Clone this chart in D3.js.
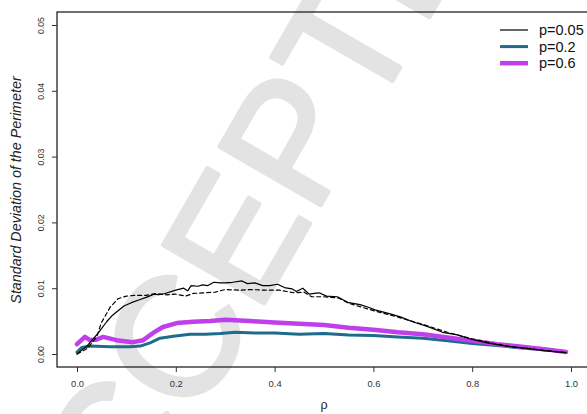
<!DOCTYPE html>
<html>
<head>
<meta charset="utf-8">
<script src="https://cdn.jsdelivr.net/npm/d3@7"></script>
<style>
  html, body { margin: 0; padding: 0; background: #fff; }
  svg { display: block; font-family: "Liberation Sans", Arial, sans-serif; }
</style>
</head>
<body>
<svg id="chart" width="587" height="414"></svg>
<script>
// Perimeter standard deviation against rho, one curve per p
const xTicks = [0.0, 0.2, 0.4, 0.6, 0.8, 1.0];
const yTicks = [0.00, 0.01, 0.02, 0.03, 0.04, 0.05];

// p = 0.05, solid
const rhoP005 = [0, 0.02, 0.042, 0.06, 0.072, 0.095, 0.11, 0.125, 0.14, 0.156, 0.165, 0.178, 0.2, 0.216, 0.224, 0.231, 0.245, 0.254, 0.265, 0.277, 0.29, 0.3, 0.315, 0.334, 0.345, 0.36, 0.376, 0.39, 0.406, 0.42, 0.435, 0.444, 0.457, 0.47, 0.48, 0.49, 0.505, 0.527, 0.55, 0.573, 0.59, 0.603, 0.634, 0.656, 0.679, 0.709, 0.74, 0.77, 0.8, 0.83, 0.869, 0.907, 0.945, 0.99];
const sdP005 = [0, 0.0012, 0.0031, 0.0049, 0.0059, 0.0073, 0.0078, 0.0082, 0.0086, 0.0091, 0.0090, 0.0092, 0.0097, 0.0100, 0.0096, 0.0104, 0.0103, 0.0105, 0.0104, 0.0109, 0.0108, 0.0108, 0.0109, 0.0111, 0.0107, 0.0108, 0.0104, 0.0104, 0.0106, 0.0101, 0.0099, 0.0095, 0.0100, 0.0091, 0.0092, 0.0093, 0.0088, 0.0087, 0.0078, 0.0075, 0.0071, 0.0067, 0.0061, 0.0056, 0.0049, 0.0042, 0.0033, 0.0029, 0.0022, 0.0017, 0.0012, 0.0009, 0.0005, 0.0002];

// p = 0.05, dashed reference
const rhoP005Ref = [0, 0.02, 0.04, 0.049, 0.067, 0.083, 0.1, 0.117, 0.14, 0.16, 0.18, 0.2, 0.22, 0.235, 0.26, 0.28, 0.3, 0.33, 0.35, 0.38, 0.41, 0.44, 0.46, 0.475, 0.5, 0.53, 0.55, 0.6, 0.65, 0.7, 0.75, 0.8, 0.85, 0.88, 0.94, 0.99];
const sdP005Ref = [0, 0.0008, 0.0026, 0.0047, 0.0071, 0.0084, 0.0088, 0.0089, 0.0089, 0.0092, 0.0090, 0.0091, 0.0088, 0.0092, 0.0093, 0.0094, 0.0098, 0.0097, 0.0098, 0.0097, 0.0097, 0.0093, 0.0094, 0.0087, 0.0087, 0.0085, 0.0077, 0.0066, 0.0056, 0.0045, 0.0033, 0.0023, 0.0015, 0.0011, 0.0006, 0.0002];

// p = 0.2
const rhoP02 = [0, 0.01, 0.026, 0.067, 0.107, 0.128, 0.148, 0.168, 0.195, 0.229, 0.26, 0.29, 0.32, 0.36, 0.4, 0.45, 0.5, 0.55, 0.6, 0.65, 0.7, 0.75, 0.8, 0.85, 0.9, 0.95, 0.99];
const sdP02 = [0.0003, 0.0010, 0.0012, 0.0011, 0.0011, 0.0012, 0.0017, 0.0024, 0.0027, 0.0030, 0.0030, 0.0031, 0.0033, 0.0032, 0.0032, 0.0030, 0.0031, 0.0029, 0.0028, 0.0026, 0.0024, 0.0020, 0.0016, 0.0013, 0.0009, 0.0006, 0.0003];

// p = 0.6
const rhoP06 = [0, 0.016, 0.026, 0.04, 0.053, 0.08, 0.113, 0.134, 0.154, 0.174, 0.202, 0.235, 0.27, 0.3, 0.35, 0.4, 0.45, 0.5, 0.55, 0.6, 0.65, 0.7, 0.75, 0.8, 0.85, 0.9, 0.95, 0.99];
const sdP06 = [0.0015, 0.0026, 0.0021, 0.0022, 0.0026, 0.0021, 0.0018, 0.0021, 0.0032, 0.0041, 0.0047, 0.0049, 0.0050, 0.0052, 0.0050, 0.0048, 0.0046, 0.0044, 0.0040, 0.0037, 0.0033, 0.0030, 0.0025, 0.0020, 0.0015, 0.0011, 0.0007, 0.0003];

const legendLabels = ["p=0.05", "p=0.2", "p=0.6"];
const seriesColors = ["#000000", "#1f6b8c", "#bf3fea"];
const seriesWidths = [1.2, 3, 4.5];

const svg = d3.select("#chart");

// Stamp across the page, behind the plot
svg.append("text")
  .attr("transform", "translate(258,196) rotate(-60)")
  .attr("text-anchor", "middle")
  .attr("dominant-baseline", "central")
  .attr("font-size", 170)
  .attr("fill", "#e3e3e3")
  .attr("stroke", "#e3e3e3")
  .attr("stroke-width", 4)
  .attr("stroke-linejoin", "round")
  .text("ACCEPTED");

const x = d3.scaleLinear().domain([0, 1]).range([77, 571]);
const y = d3.scaleLinear().domain([0, 0.05]).range([354, 25]);

// Frame
svg.append("rect")
  .attr("x", 57).attr("y", 12)
  .attr("width", 540).attr("height", 355)
  .attr("fill", "none").attr("stroke", "#111").attr("stroke-width", 1.2);

// x axis
const xAxis = svg.append("g").attr("transform", "translate(0,367)")
  .call(d3.axisBottom(x).tickValues(xTicks).tickFormat(d3.format(".1f")).tickSize(5).tickPadding(8));
xAxis.select(".domain").remove();
xAxis.selectAll("line").attr("stroke", "#333");
xAxis.selectAll("text").attr("font-size", 9.4).attr("fill", "#333")
  .attr("font-family", "'Liberation Sans', Arial, sans-serif");

// y axis, labels turned sideways
const yAxis = svg.append("g").attr("transform", "translate(57,0)")
  .call(d3.axisLeft(y).tickValues(yTicks).tickFormat(d3.format(".2f")).tickSize(5));
yAxis.select(".domain").remove();
yAxis.selectAll("line").attr("stroke", "#333");
yAxis.selectAll("text")
  .attr("x", null).attr("dy", null)
  .attr("text-anchor", "middle")
  .attr("transform", "translate(-13.5,0) rotate(-90)")
  .attr("font-size", 8.7).attr("fill", "#333")
  .attr("font-family", "'Liberation Sans', Arial, sans-serif");

// Axis titles
svg.append("text")
  .attr("x", x(0.5)).attr("y", 409)
  .attr("text-anchor", "middle")
  .attr("font-size", 12.5).attr("fill", "#222")
  .text("ρ");
svg.append("text")
  .attr("transform", "translate(21,190) rotate(-90)")
  .attr("text-anchor", "middle")
  .attr("font-size", 14.3).attr("font-style", "italic").attr("fill", "#222")
  .text("Standard Deviation of the Perimeter");

// Curves
const line = d3.line().x(d => x(d[0])).y(d => y(d[1]));
const zip = (a, b) => a.map((v, i) => [v, b[i]]);

const curves = [
  { pts: zip(rhoP02, sdP02), color: seriesColors[1], width: seriesWidths[1], dash: null },
  { pts: zip(rhoP06, sdP06), color: seriesColors[2], width: seriesWidths[2], dash: null },
  { pts: zip(rhoP005Ref, sdP005Ref), color: seriesColors[0], width: seriesWidths[0], dash: "4,3" },
  { pts: zip(rhoP005, sdP005), color: seriesColors[0], width: seriesWidths[0], dash: null }
];

svg.append("g").selectAll("path").data(curves).join("path")
  .attr("d", d => line(d.pts))
  .attr("fill", "none")
  .attr("stroke", d => d.color)
  .attr("stroke-width", d => d.width)
  .attr("stroke-dasharray", d => d.dash)
  .attr("stroke-linejoin", "round")
  .attr("stroke-linecap", "round");

// Legend
const legend = svg.append("g").selectAll("g").data(legendLabels).join("g")
  .attr("transform", (d, i) => `translate(0,${30 + i * 16.6})`);
legend.append("line")
  .attr("x1", 500).attr("x2", 528).attr("y1", 0).attr("y2", 0)
  .attr("stroke", (d, i) => seriesColors[i])
  .attr("stroke-width", (d, i) => seriesWidths[i]);
legend.append("text")
  .attr("x", 539).attr("y", 0).attr("dy", "0.36em")
  .attr("font-size", 14.5).attr("fill", "#111")
  .text(d => d);
</script>
</body>
</html>
